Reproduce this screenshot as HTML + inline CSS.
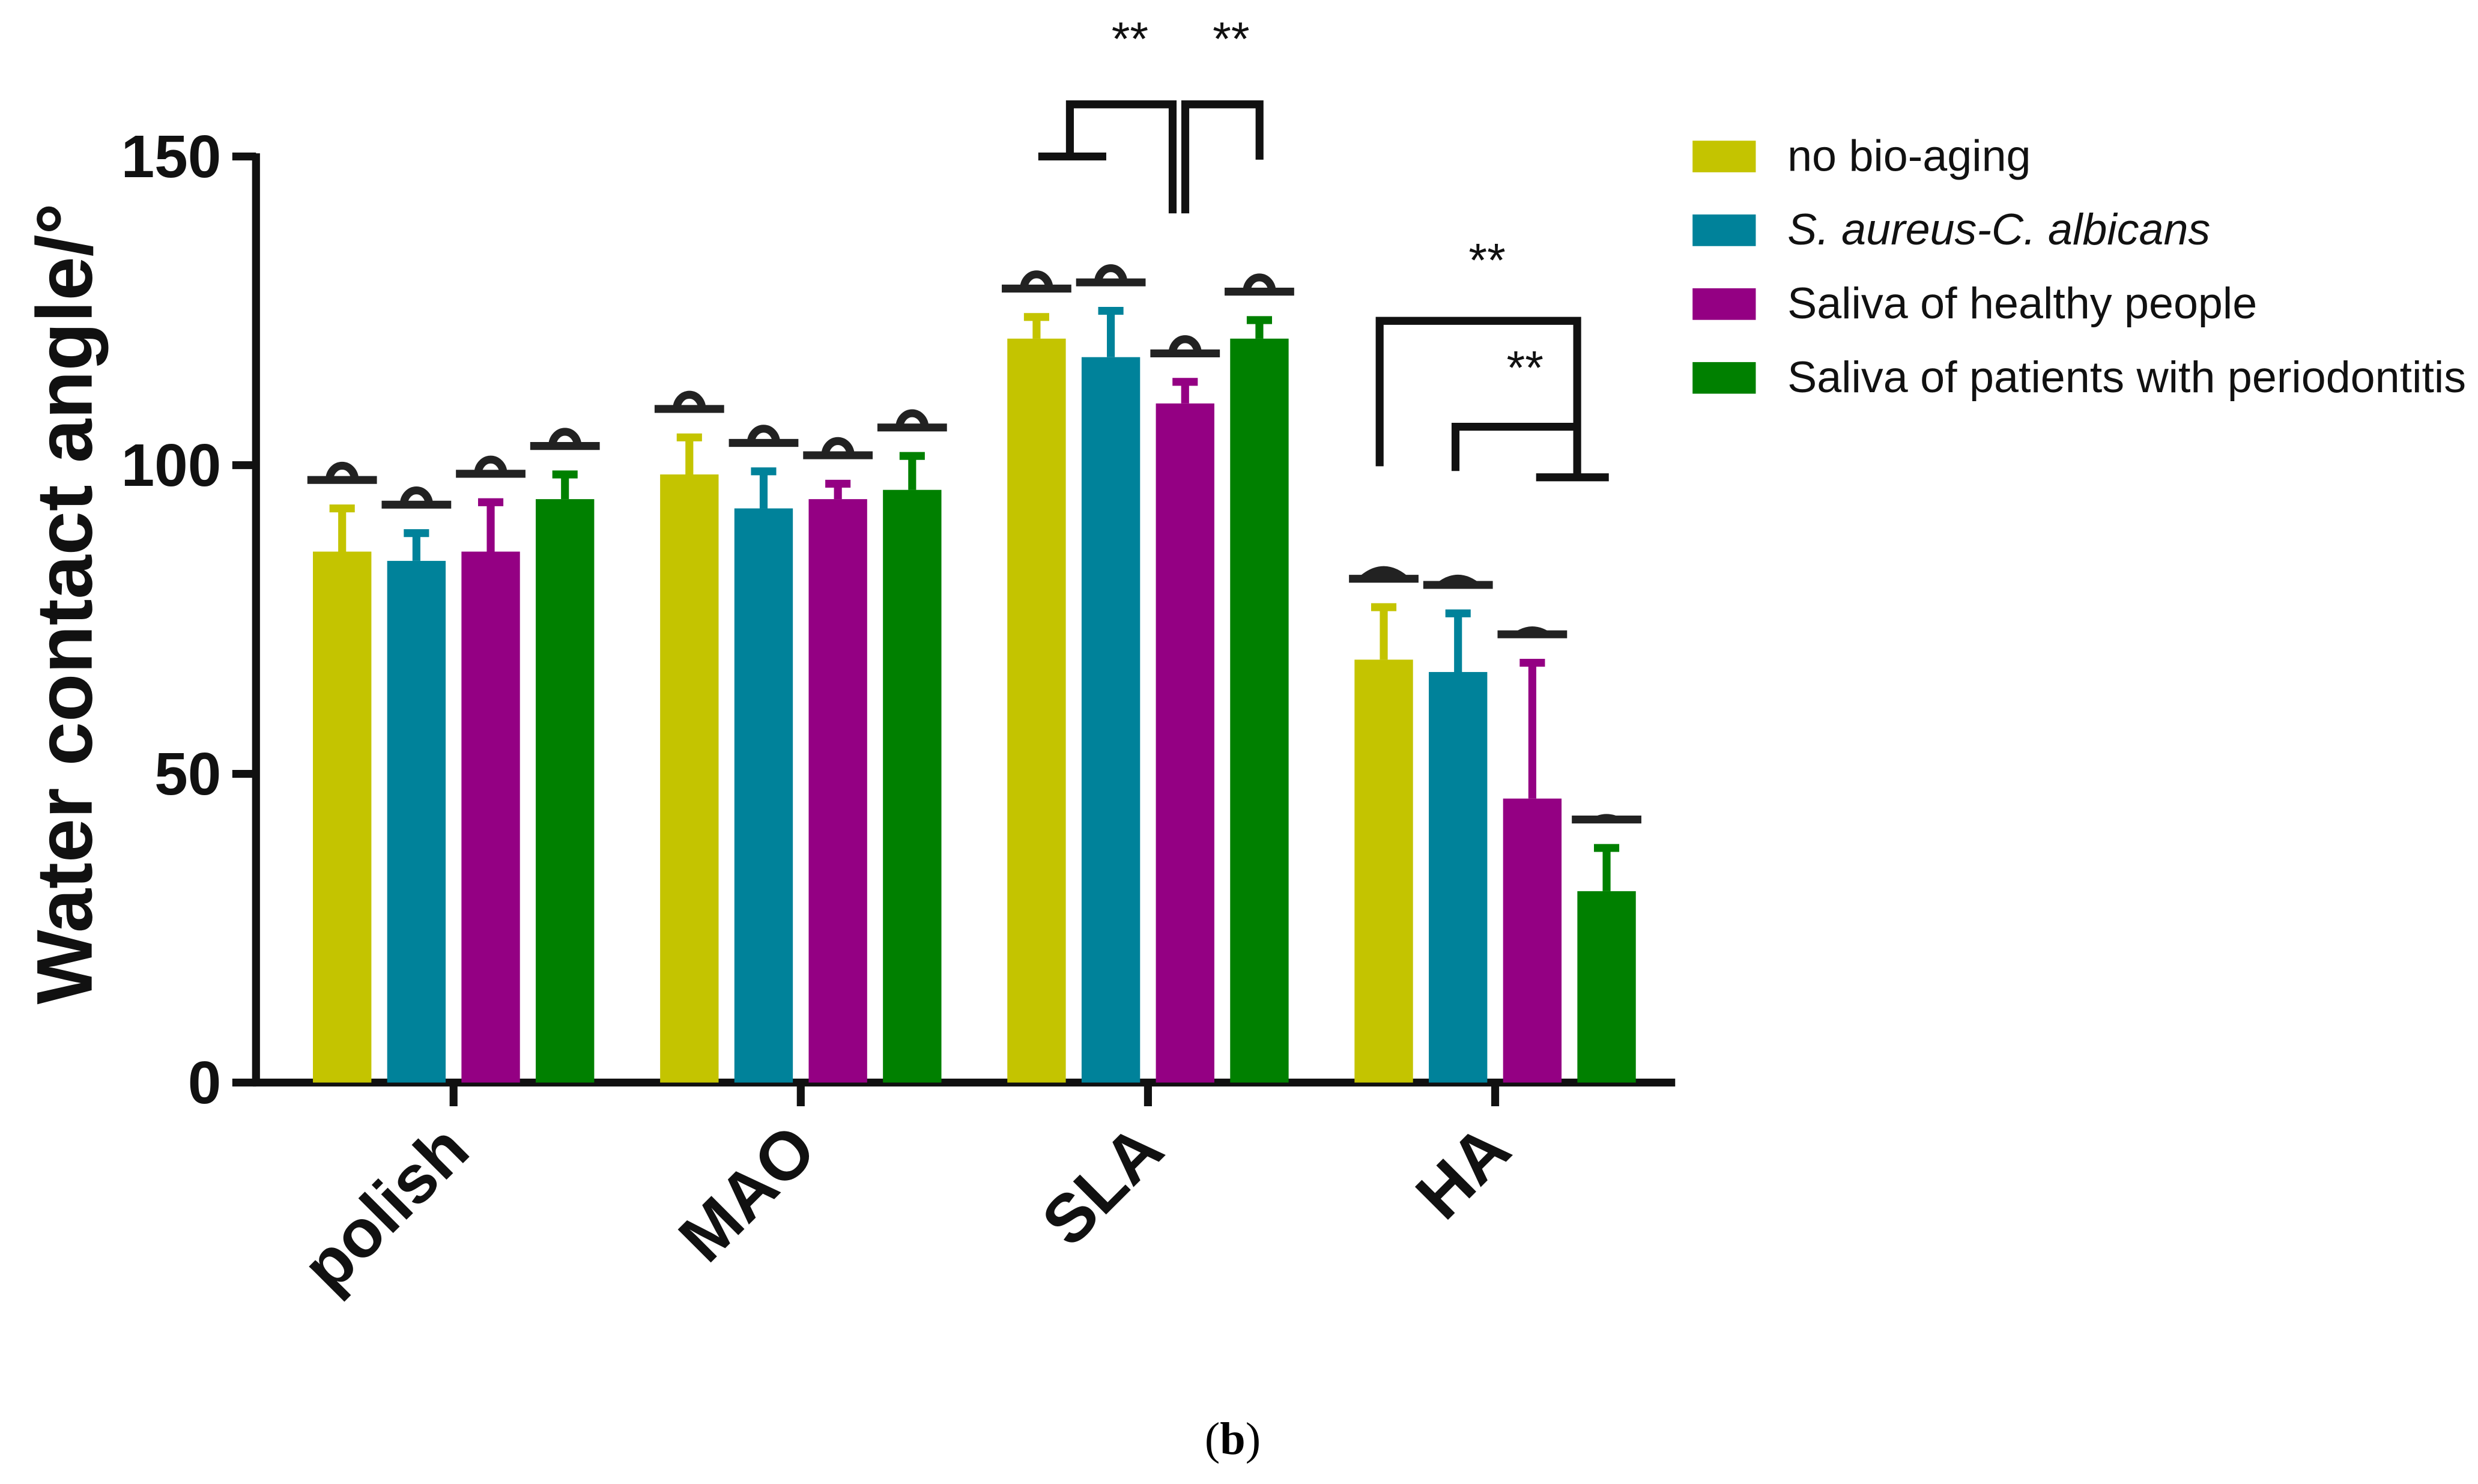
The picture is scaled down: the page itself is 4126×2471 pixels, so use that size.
<!DOCTYPE html>
<html><head><meta charset="utf-8"><style>
html,body{margin:0;padding:0;background:#fff}
svg{display:block}
text{font-family:"Liberation Sans",sans-serif}
</style></head><body>
<svg id="chart" width="4126" height="2471" viewBox="0 0 1568 939" xmlns="http://www.w3.org/2000/svg">
<g id="axes"></g>
<g id="bars"></g>
<g id="sig" stroke="#111" stroke-width="5" fill="none">
  <path d="M657 99 H700 M677 99 V66 H742 V135 M750 135 V66 H797 V101"/>
  <path d="M873 295 V203 H998 V302 M921 298 V270 H998 M972 302 H1018"/>
</g>
<g font-size="30" fill="#111" text-anchor="middle">
  <text x="715" y="35">**</text><text x="779" y="35">**</text>
  <text x="941" y="175">**</text><text x="965" y="243">**</text>
</g>
<g id="legend"></g>
<text transform="translate(58,382) rotate(-90)" text-anchor="middle" font-size="50" font-weight="bold" fill="#111">Water contact angle/°</text>
<text x="780" y="920" text-anchor="middle" font-size="29" style="font-family:'Liberation Serif',serif">(<tspan font-weight="bold">b</tspan>)</text>
</svg>
<script>
const categories=["polish","MAO","SLA","HA"];
const seriesNames=["no bio-aging","S. aureus-C. albicans","Saliva of healthy people","Saliva of patients with periodontitis"];
const colors=["#c4c400","#00829a","#940083","#008000"];
const means=[[86,98.5,120.5,68.5],[84.5,93,117.5,66.5],[86,94.5,110,46],[94.5,96,120.5,31]];
const errTops=[[93,104.5,124,77],[89,99,125,76],[94,97,113.5,68],[98.5,101.5,123.5,38]];
const yTicks=[0,50,100,150];
const NS="http://www.w3.org/2000/svg";
const y0=685,pxPerUnit=586/150;
function yS(v){return y0-v*pxPerUnit;}
function xC(i){return 287+i*219.7;}
function mk(tag,attrs,parent){const e=document.createElementNS(NS,tag);for(const k in attrs)e.setAttribute(k,attrs[k]);parent.appendChild(e);return e;}
const axes=document.getElementById('axes');
let e=mk('line',{x1:162,y1:97,x2:162,y2:687,stroke:'#111','stroke-width':5},axes);


e=mk('line',{x1:160,y1:685,x2:1060,y2:685,stroke:'#111','stroke-width':5},axes);


yTicks.forEach(t=>{
  mk('line',{x1:147,y1:yS(t),x2:162,y2:yS(t),stroke:'#111','stroke-width':5},axes);
  const tx=mk('text',{x:140,y:yS(t)+13,'text-anchor':'end','font-size':38,'font-weight':'bold',fill:'#111'},axes);
  tx.textContent=t;
  
  
});
categories.forEach((c,i)=>{
  const x=xC(i);
  mk('line',{x1:x,y1:685,x2:x,y2:700,stroke:'#111','stroke-width':5},axes);
  const tx=mk('text',{'text-anchor':'end','font-size':43,'font-weight':'bold',fill:'#111',transform:`translate(${x+12},${730}) rotate(-45)`},axes);
  tx.textContent=c;
  
  
});
const bars=document.getElementById('bars');
const offs=[-70.5,-23.5,23.5,70.5],bw=37;
means.forEach((ser,s)=>{
  ser.forEach((v,i)=>{
    const cx=xC(i)+offs[s];
    const r=mk('rect',{x:cx-bw/2,y:yS(v),width:bw,height:y0-yS(v),fill:colors[s]},bars);
    
    
    const et=yS(errTops[s][i]);
    const eb=mk('path',{d:`M${cx} ${yS(v)} V${et} M${cx-8} ${et} H${cx+8}`,stroke:colors[s],'stroke-width':5,fill:'none'},bars);
    
    
    const dy=et-18;
    const g=mk('g',{},bars);
    
    
    mk('line',{x1:cx-22,y1:dy,x2:cx+22,y2:dy,stroke:'#222','stroke-width':5},g);
    if(i<3){mk('path',{d:`M${cx-8} ${dy} A8 9 0 0 1 ${cx+8} ${dy}`,fill:'none',stroke:'#222','stroke-width':5},g);}
    else{mk('path',{d:`M${cx-17+s*2} ${dy} Q${cx} ${dy-16+s*3} ${cx+17-s*2} ${dy}Z`,fill:'#222'},g);}
  });
});
const leg=document.getElementById('legend');
seriesNames.forEach((n,s)=>{
  const cy=99+s*46.7;
  const g=mk('g',{},leg);
  
  
  mk('rect',{x:1071,y:cy-10,width:40,height:20,fill:colors[s]},g);
  const t=mk('text',{x:1131,y:cy+9,'font-size':28,fill:'#111'},g);
  t.textContent=n;
  if(s===1)t.setAttribute('font-style','italic');
});
</script>
</body></html>
